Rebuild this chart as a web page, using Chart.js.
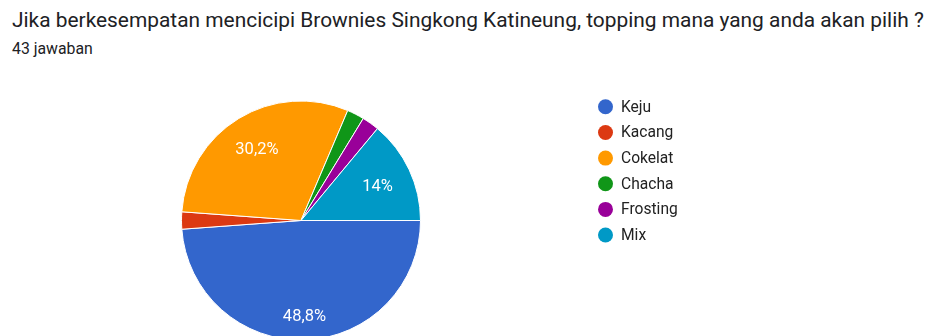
<!DOCTYPE html>
<html>
<head>
<meta charset="utf-8">
<script src="https://cdn.jsdelivr.net/npm/chart.js@4"></script>
<style>
  html, body { margin: 0; padding: 0; background: #fff; overflow: hidden; width: 928px; height: 336px; }
  body { position: relative; font-family: Roboto, Arial, sans-serif; }
  #title { position: absolute; left: 12px; top: 8px; font-size: 20.9px; line-height: 24px; color: #202124; white-space: nowrap; }
  #subtitle { position: absolute; left: 12px; top: 40px; font-size: 15.8px; line-height: 18.5px; color: #202124; }
  #wrap { position: absolute; left: 0; top: 0; width: 928px; height: 360px; }
</style>
</head>
<body>
<div id="title">Jika berkesempatan mencicipi Brownies Singkong Katineung, topping mana yang anda akan pilih ?</div>
<div id="subtitle">43 jawaban</div>
<div id="wrap"><canvas id="pie"></canvas></div>
<script>
const labels = ['Keju', 'Kacang', 'Cokelat', 'Chacha', 'Frosting', 'Mix'];
const counts = [21, 1, 13, 1, 1, 6];
const colors = ['#3366cc', '#dc3912', '#ff9900', '#109618', '#990099', '#0099c6'];

const total = counts.reduce((a, b) => a + b, 0);

function pctText(v) {
  const p = (v / total * 100).toFixed(1).replace(/\.0$/, '');
  return p.replace('.', ',') + '%';
}

// percentage labels inside the bigger slices, text box kept inside a fixed radius
const sliceLabels = {
  id: 'sliceLabels',
  afterDatasetsDraw(chart) {
    const ctx = chart.ctx;
    const meta = chart.getDatasetMeta(0);
    ctx.save();
    ctx.font = '16.5px Roboto, Arial, sans-serif';
    ctx.fillStyle = '#ffffff';
    ctx.textAlign = 'center';
    ctx.textBaseline = 'alphabetic';
    meta.data.forEach((arc, i) => {
      const v = chart.data.datasets[0].data[i];
      if (v / total < 0.05) return;
      const p = arc.getProps(['x', 'y', 'startAngle', 'endAngle', 'outerRadius'], true);
      const mid = (p.startAngle + p.endAngle) / 2;
      const txt = pctText(v);
      const hw = ctx.measureText(txt).width / 2;
      const hh = 6;
      const c = Math.cos(mid), s = Math.sin(mid);
      const r = p.outerRadius * 0.845 - (hw * Math.abs(c) + hh * Math.abs(s));
      ctx.fillText(txt, p.x + c * r, p.y + s * r + hh);
    });
    ctx.restore();
  }
};

// legend column to the right of the pie
const sideLegend = {
  id: 'sideLegend',
  afterDraw(chart) {
    const ctx = chart.ctx;
    const ds = chart.data.datasets[0];
    ctx.save();
    ctx.font = '15.6px Roboto, Arial, sans-serif';
    ctx.textBaseline = 'middle';
    ctx.textAlign = 'left';
    chart.data.labels.forEach((lab, i) => {
      const y = 106.8 + i * 25.65;
      ctx.beginPath();
      ctx.arc(605.5, y, 7.5, 0, Math.PI * 2);
      ctx.fillStyle = ds.backgroundColor[i];
      ctx.fill();
      ctx.fillStyle = '#222222';
      ctx.fillText(lab, 621, y + 1);
    });
    ctx.restore();
  }
};

new Chart(document.getElementById('pie'), {
  type: 'pie',
  data: {
    labels: labels,
    datasets: [{
      data: counts,
      backgroundColor: colors,
      borderColor: '#ffffff',
      borderWidth: 1
    }]
  },
  options: {
    responsive: true,
    maintainAspectRatio: false,
    animation: false,
    rotation: 90,
    layout: { padding: { top: 100.5, bottom: 19.5, left: 181, right: 507 } },
    plugins: {
      legend: { display: false },
      tooltip: { enabled: false }
    }
  },
  plugins: [sliceLabels, sideLegend]
});
</script>
</body>
</html>
